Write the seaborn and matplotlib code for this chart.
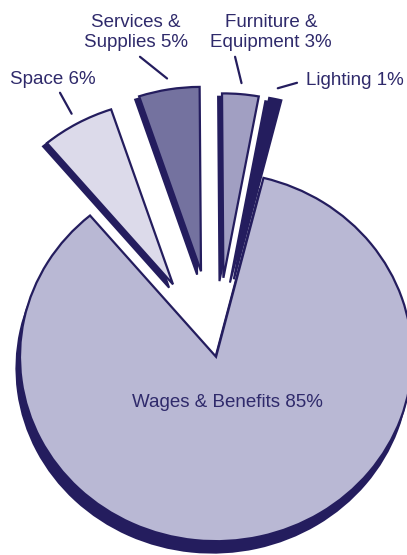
import matplotlib
matplotlib.use('Agg')
import matplotlib.pyplot as plt
import seaborn as sns
import numpy as np

# data, listed counter-clockwise starting at the top right
categories = ['Lighting', 'Furniture &\nEquipment', 'Services &\nSupplies', 'Space', 'Wages & Benefits']
shares = [1, 3, 5, 6, 85]
slice_colors = ['#241d5e', '#a19fc2', '#74729f', '#dcdaea', '#b9b8d4']
explode = [0.43, 0.43, 0.47, 0.45, 0.0]

NAVY = '#241d5e'
TEXT = '#2f2a6b'

sns.set_theme(style='white')
plt.rcParams['font.family'] = ['Liberation Sans', 'DejaVu Sans']

fig = plt.figure(figsize=(4.07, 5.55), dpi=100)
ax = fig.add_axes([0, 0, 1, 1])

# dark "extruded" shadow drawn first, shifted down-left
shadow, _ = ax.pie(shares, explode=explode, startangle=76, colors=[NAVY] * len(shares),
                   wedgeprops=dict(edgecolor=NAVY, linewidth=1.5))
for i, w in enumerate(shadow):
    cx, cy = w.center
    if i == len(shares) - 1:
        w.set_center((cx - 0.018, cy - 0.062))
    else:
        w.set_center((cx - 0.02, cy - 0.018))

wedges, _ = ax.pie(shares, explode=explode, startangle=76, colors=slice_colors,
                   wedgeprops=dict(edgecolor=NAVY, linewidth=1.6))

labels = [f'{c} {s}%' for c, s in zip(categories, shares)]

# label placement for the small exploded slices
label_pos = [(0.459, 1.497), (0.281, 1.757), (-0.408, 1.757), (-1.051, 1.503)]
label_ha = ['left', 'center', 'center', 'left']
line_start = [(0.413, 1.486), (0.097, 1.627), (-0.388, 1.627), (-0.796, 1.432)]

for i in range(4):
    w = wedges[i]
    mid = np.deg2rad((w.theta1 + w.theta2) / 2)
    cx, cy = w.center
    end = (cx + 1.06 * np.cos(mid), cy + 1.06 * np.sin(mid))
    ax.annotate('', xy=end, xytext=line_start[i],
                arrowprops=dict(arrowstyle='-', color=NAVY, lw=1.6, shrinkA=0, shrinkB=0))
    ax.text(label_pos[i][0], label_pos[i][1], labels[i], ha=label_ha[i], va='center',
            multialignment='center', fontsize=13.5, color=TEXT, linespacing=1.25)

ax.text(0.056, -0.249, labels[4], ha='center', va='center', fontsize=13.5, color=TEXT)

ax.set_aspect('auto')
ax.set_xlim(-1.102, 0.974)
ax.set_ylim(-1.075, 1.935)
ax.axis('off')

plt.savefig('out.png', dpi=100)
plt.close()
